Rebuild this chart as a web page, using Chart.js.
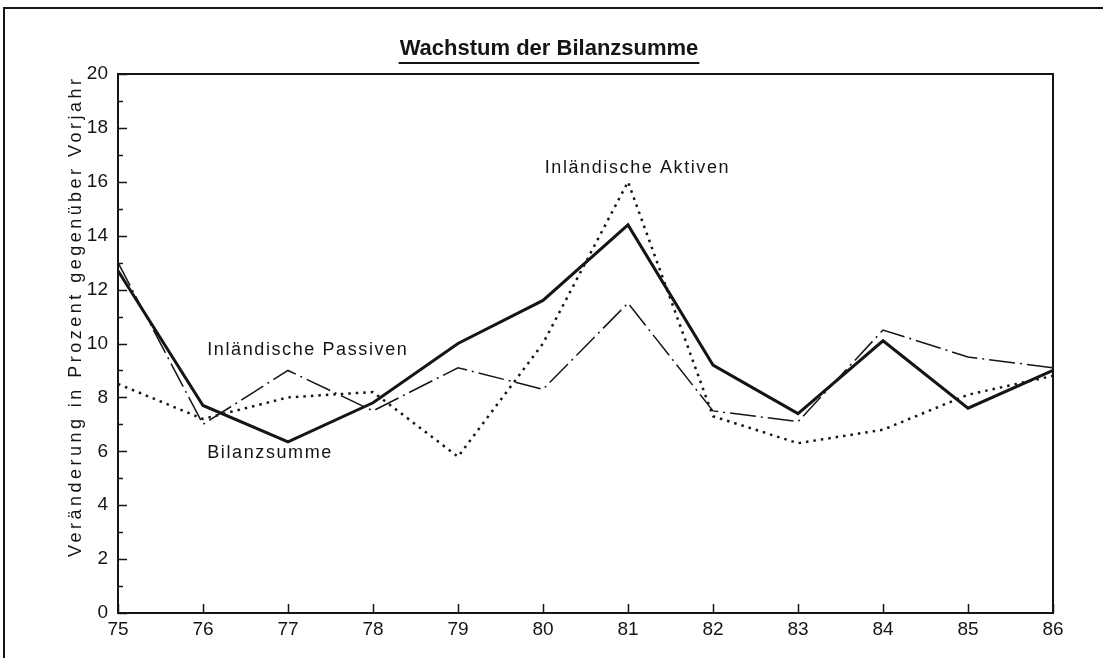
<!DOCTYPE html>
<html>
<head>
<meta charset="utf-8">
<script src="https://cdn.jsdelivr.net/npm/chart.js@4/dist/chart.umd.min.js"></script>
<style>
  html, body { margin: 0; padding: 0; background: #fff; }
  #c { display: block; }
</style>
</head>
<body>
<canvas id="c" width="1103" height="658" style="width:1103px;height:658px"></canvas>
<script>
// ---- data ----
const years = ['75', '76', '77', '78', '79', '80', '81', '82', '83', '84', '85', '86'];
const bilanzsumme = [12.7, 7.7, 6.35, 7.8, 10.0, 11.6, 14.4, 9.2, 7.4, 10.1, 7.6, 9.0];
const inlPassiven = [13.0, 7.0, 9.0, 7.5, 9.1, 8.3, 11.5, 7.5, 7.1, 10.5, 9.5, 9.1];
const inlAktiven  = [8.5, 7.2, 8.0, 8.2, 5.8, 10.0, 16.0, 7.3, 6.3, 6.8, 8.1, 8.8];
const yMajorTicks = [0, 2, 4, 6, 8, 10, 12, 14, 16, 18, 20];
const yMinorTicks = [1, 3, 5, 7, 9, 11, 13, 15, 17, 19];

const titleText = 'Wachstum der Bilanzsumme';
const yTitleText = 'Veränderung in Prozent gegenüber Vorjahr';
const seriesLabels = [
  { text: 'Inländische Aktiven', idx: 5.02, val: 16.5 },
  { text: 'Inländische Passiven', idx: 1.05, val: 9.75 },
  { text: 'Bilanzsumme', idx: 1.05, val: 5.95 }
];

const INK = '#151515';
const FONT = '"Liberation Sans", Arial, Helvetica, sans-serif';

const decor = {
  id: 'decor',
  beforeDraw(chart) {
    const ctx = chart.ctx;
    ctx.save();
    ctx.fillStyle = '#fff';
    ctx.fillRect(0, 0, chart.width, chart.height);
    // outer frame (top & left visible)
    ctx.strokeStyle = INK;
    ctx.lineWidth = 2;
    ctx.beginPath();
    ctx.moveTo(4, chart.height + 2);
    ctx.lineTo(4, 8);
    ctx.lineTo(chart.width + 2, 8);
    ctx.stroke();
    ctx.restore();
  },
  afterDraw(chart) {
    const ctx = chart.ctx;
    const a = chart.chartArea;
    const xs = chart.scales.x, ys = chart.scales.y;
    ctx.save();
    ctx.strokeStyle = INK;
    ctx.fillStyle = INK;
    // plot frame
    ctx.lineWidth = 2;
    ctx.strokeRect(a.left, a.top, a.right - a.left, a.bottom - a.top);
    // y ticks (inward)
    ctx.lineWidth = 1.5;
    ctx.beginPath();
    yMajorTicks.forEach(v => {
      const y = Math.round(ys.getPixelForValue(v)) + 0.5;
      ctx.moveTo(a.left, y); ctx.lineTo(a.left + 9, y);
    });
    yMinorTicks.forEach(v => {
      const y = Math.round(ys.getPixelForValue(v)) + 0.5;
      ctx.moveTo(a.left, y); ctx.lineTo(a.left + 5, y);
    });
    // x ticks (inward)
    years.forEach((_, i) => {
      const x = Math.round(xs.getPixelForValue(i)) + 0.5;
      ctx.moveTo(x, a.bottom); ctx.lineTo(x, a.bottom - 9);
    });
    ctx.stroke();

    // title
    ctx.font = 'bold 22px ' + FONT;
    ctx.textAlign = 'center';
    ctx.textBaseline = 'alphabetic';
    const tx = 549, ty = 55;
    ctx.fillText(titleText, tx, ty);
    const tw = ctx.measureText(titleText).width;
    ctx.lineWidth = 2;
    ctx.beginPath();
    ctx.moveTo(tx - tw / 2 - 1, 63); ctx.lineTo(tx + tw / 2 + 1, 63);
    ctx.stroke();

    // y axis title, spread to the reference length
    ctx.save();
    ctx.translate(76, 318);
    ctx.rotate(-Math.PI / 2);
    ctx.font = '18px ' + FONT;
    ctx.letterSpacing = '0px';
    const w0 = ctx.measureText(yTitleText).width;
    const sp = Math.max(0, (478 - w0) / (yTitleText.length - 1));
    ctx.letterSpacing = sp.toFixed(2) + 'px';
    ctx.textAlign = 'left';
    ctx.textBaseline = 'middle';
    ctx.fillText(yTitleText, -239, 0);
    ctx.restore();

    // series labels
    ctx.font = '18px ' + FONT;
    ctx.letterSpacing = '1.6px';
    ctx.textAlign = 'left';
    ctx.textBaseline = 'middle';
    seriesLabels.forEach(l => {
      ctx.fillText(l.text, xs.getPixelForValue(l.idx), ys.getPixelForValue(l.val));
    });
    ctx.restore();
  }
};

new Chart(document.getElementById('c'), {
  type: 'line',
  data: {
    labels: years,
    datasets: [
      { label: 'Bilanzsumme', data: bilanzsumme, borderColor: INK, borderWidth: 3, pointRadius: 0, tension: 0, borderJoinStyle: 'miter' },
      { label: 'Inländische Passiven', data: inlPassiven, borderColor: INK, borderWidth: 1.5, borderDash: [26, 5, 2, 5], pointRadius: 0, tension: 0 },
      { label: 'Inländische Aktiven', data: inlAktiven, borderColor: INK, borderWidth: 2.5, borderDash: [2.5, 5], pointRadius: 0, tension: 0 }
    ]
  },
  options: {
    responsive: false,
    animation: false,
    devicePixelRatio: 1,
    layout: { padding: { left: 0, right: 50, top: 74, bottom: 0 } },
    plugins: { legend: { display: false }, tooltip: { enabled: false }, title: { display: false } },
    scales: {
      x: {
        type: 'category',
        offset: false,
        grid: { display: false },
        border: { display: false },
        ticks: { color: INK, font: { family: FONT, size: 19 }, padding: -3, maxRotation: 0, autoSkip: false },
        afterFit(s) { s.height = 45; }
      },
      y: {
        min: 0, max: 20,
        grid: { display: false },
        border: { display: false },
        ticks: { stepSize: 2, color: INK, font: { family: FONT, size: 19 }, padding: 2 },
        afterFit(s) { s.width = 118; }
      }
    }
  },
  plugins: [decor]
});
</script>
</body>
</html>
